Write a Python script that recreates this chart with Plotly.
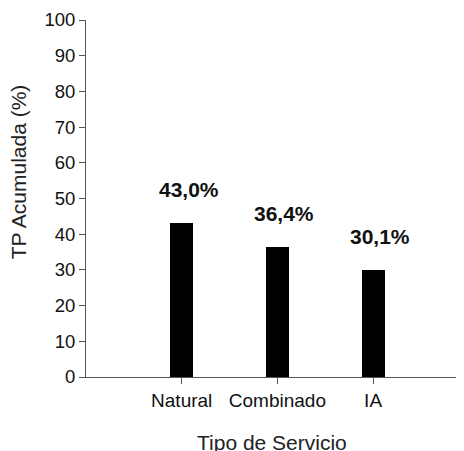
import plotly.graph_objects as go

CATEGORIES = ["Natural", "Combinado", "IA"]
VALUES = [43.0, 36.4, 30.1]
LABELS = ["43,0%", "36,4%", "30,1%"]
Y_TICKS = list(range(0, 101, 10))

FONT = "Arial, Liberation Sans, sans-serif"
AXIS_C = "#555555"


def main():
    fig = go.Figure()
    fig.add_trace(go.Bar(
        x=CATEGORIES, y=VALUES, width=0.24,
        marker=dict(color="#000000", line=dict(width=0)),
        showlegend=False, hoverinfo="skip",
    ))

    # bold value labels above each bar
    for cat, val, lab in zip(CATEGORIES, VALUES, LABELS):
        fig.add_annotation(x=cat, y=val, text=f"<b>{lab}</b>", showarrow=False,
                           xanchor="center", yanchor="bottom", xshift=7, yshift=20,
                           font=dict(size=21, color="#111111", family=FONT))

    fig.add_annotation(text="TP Acumulada (%)", textangle=-90, showarrow=False,
                       xref="paper", yref="paper", x=-0.18, y=0.576,
                       xanchor="center", yanchor="middle",
                       font=dict(size=21, color="#222222", family=FONT))
    fig.add_annotation(text="Tipo de Servicio", showarrow=False,
                       xref="paper", yref="paper", x=0.493, y=-0.145,
                       xanchor="center", yanchor="top",
                       font=dict(size=21, color="#222222", family=FONT))

    fig.update_xaxes(range=[-1.0, 2.95], showline=True, linecolor=AXIS_C, linewidth=1,
                     ticks="outside", ticklen=6, tickcolor=AXIS_C, showgrid=False,
                     zeroline=False, automargin=False,
                     tickfont=dict(size=19, color="#111111", family=FONT))
    fig.update_yaxes(range=[0, 100], tickvals=Y_TICKS, showline=True, linecolor=AXIS_C,
                     linewidth=1, ticks="outside", ticklen=6, tickcolor=AXIS_C,
                     showgrid=False, zeroline=False, automargin=False,
                     tickfont=dict(size=18.5, color="#111111", family=FONT))

    # page body adds an 8px offset, so margins are shifted to compensate
    fig.update_layout(
        width=464, height=451, plot_bgcolor="white", paper_bgcolor="white",
        margin=dict(l=78, r=8, t=12, b=82),
        font=dict(family=FONT), bargap=0,
    )
    fig.write_html("out.html")


if __name__ == "__main__":
    main()
